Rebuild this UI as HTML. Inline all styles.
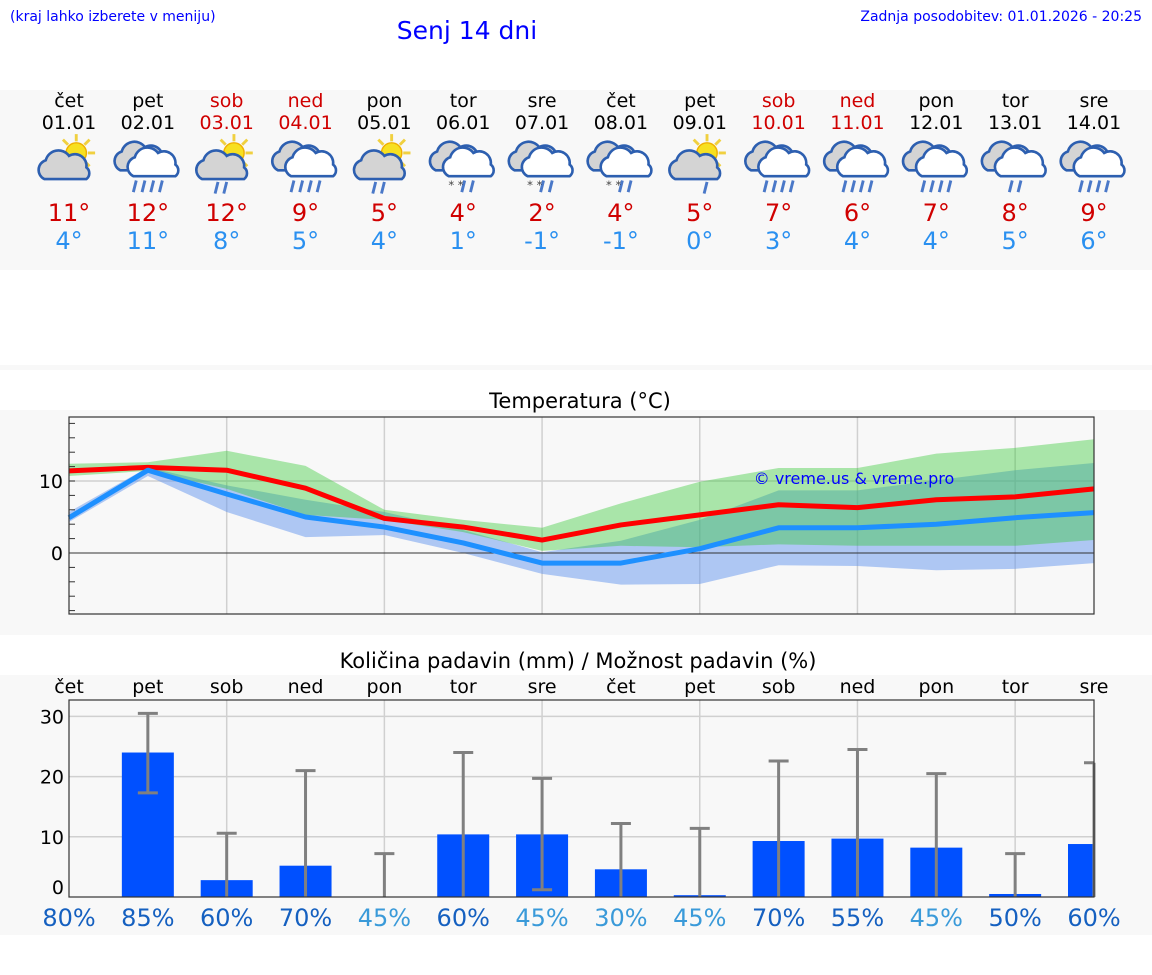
<!DOCTYPE html>
<html><head><meta charset="utf-8"><style>
body{margin:0;width:1152px;height:975px;background:#fff;font-family:"DejaVu Sans","Liberation Sans",sans-serif;overflow:hidden}
svg{display:block}
text{font-family:"DejaVu Sans","Liberation Sans",sans-serif}
</style></head><body>
<svg id="s" width="1152" height="975">
<rect x="0" y="90" width="1152" height="180" fill="#f8f8f8"/>
<rect x="0" y="365" width="1152" height="5" fill="#f8f8f8"/>
<rect x="0" y="410" width="1152" height="225" fill="#f8f8f8"/>
<rect x="0" y="675" width="1152" height="260" fill="#f8f8f8"/>
<text x="10" y="21" font-size="14" fill="#0000ff">(kraj lahko izberete v meniju)</text>
<text x="467" y="39" font-size="25" fill="#0000ff" text-anchor="middle">Senj 14 dni</text>
<text x="1142" y="21" font-size="14" fill="#0000ff" text-anchor="end">Zadnja posodobitev: 01.01.2026 - 20:25</text>
<text x="580" y="408" font-size="21" text-anchor="middle" fill="#000">Temperatura (°C)</text>
<text x="578" y="668" font-size="21" text-anchor="middle" fill="#000">Količina padavin (mm) / Možnost padavin (%)</text>
<g id="topg"></g><g id="temp"></g><g id="prec"></g>
</svg>
<script>
const days=["čet","pet","sob","ned","pon","tor","sre","čet","pet","sob","ned","pon","tor","sre"];
const dates=["01.01","02.01","03.01","04.01","05.01","06.01","07.01","08.01","09.01","10.01","11.01","12.01","13.01","14.01"];
const weekend=[0,0,1,1,0,0,0,0,0,1,1,0,0,0];
const icons=[0,1,2,1,2,3,3,3,4,1,1,1,5,1];
const dayMax=[11,12,12,9,5,4,2,4,5,7,6,7,8,9];
const dayMin=[4,11,8,5,4,1,-1,-1,0,3,4,4,5,6];
const tMax=[11.4,11.9,11.5,9,4.8,3.6,1.8,3.9,5.3,6.7,6.3,7.4,7.8,8.9];
const tMin=[4.9,11.5,8.2,5,3.6,1.4,-1.4,-1.4,0.6,3.5,3.5,4,4.9,5.6];
const gHi=[12.4,12.6,14.2,12.1,6,4.6,3.5,6.9,9.9,11.8,11.8,13.8,14.6,15.8];
const gLo=[10.7,11.4,8.9,5.3,4.6,2.9,0.3,1.0,0.8,1.2,1.0,1.0,1.0,1.8];
const bHi=[5.7,11.9,9.4,7.4,5.7,3.2,0.1,1.7,4.6,8.7,8.7,10.1,11.5,12.5];
const bLo=[4.3,10.7,5.7,2.2,2.5,0,-2.9,-4.4,-4.3,-1.7,-1.8,-2.4,-2.2,-1.4];
const tTicks=[0,10];
const precip=[0,24,2.8,5.2,0,10.4,10.4,4.6,0.3,9.3,9.7,8.2,0.5,8.8];
const errLo=[0,17.3,0,0,0,0,1.2,0,0,0,0,0,0,0];
const errHi=[0,30.5,10.6,21,7.2,24,19.7,12.2,11.4,22.6,24.5,20.5,7.2,22.3];
const chance=[80,85,60,70,45,60,45,30,45,70,55,45,50,60];
const pTicks=[0,10,20,30];
const NS="http://www.w3.org/2000/svg";
function mk(p,t,a,txt){const e=document.createElementNS(NS,t);for(const k in a)e.setAttribute(k,a[k]);if(txt!==undefined)e.textContent=txt;p.appendChild(e);return e;}
const X=i=>69+i*(1094-69)/13;
const topG=document.getElementById('topg');
function cloud(g,cx,cy,fill){
  mk(g,'path',{d:`M${cx-14} ${cy+8} a7 7 0 0 1 1-13 a9 9 0 0 1 16-3 a8 8 0 0 1 12 8 a5 5 0 0 1 0 8 z`,fill:fill,stroke:'#2d5fb0','stroke-width':1.8});
}
function sun(g,cx,cy){
  for(let k=0;k<8;k++){const a=k*Math.PI/4;mk(g,'line',{x1:cx+Math.cos(a)*8,y1:cy+Math.sin(a)*8,x2:cx+Math.cos(a)*13,y2:cy+Math.sin(a)*13,stroke:'#f0d040','stroke-width':2});}
  mk(g,'circle',{cx:cx,cy:cy,r:7,fill:'#f7e020',stroke:'#f0b000','stroke-width':1});
}
function drops(g,cx,cy,n){for(let k=0;k<n;k++){const x=cx-(n-1)*3+k*6;mk(g,'line',{x1:x+1,y1:cy,x2:x-1,y2:cy+8,stroke:'#4a78c8','stroke-width':2});}}
for(let i=0;i<14;i++){
  const x=X(i),col=weekend[i]?'#d00000':'#000';
  const d=mk(topG,'text',{x:x,y:107,'font-size':19,'text-anchor':'middle',fill:col},days[i]);
  
  
  const dt=mk(topG,'text',{x:x,y:129,'font-size':19,'text-anchor':'middle',fill:col},dates[i]);
  
  
  const g=mk(topG,'g',{transform:`translate(${x} 166) scale(1.45) translate(${-x} -166)`});
  
  
  const t=icons[i];
  if(t==0||t==2||t==4){sun(g,x+5,157);cloud(g,x-3,167,'#d4d4d4');if(t==2)drops(g,x-4,177,2);if(t==4)drops(g,x+4,177,1);}
  else{cloud(g,x-5,161,'#d4d4d4');cloud(g,x+4,165,'#fff');
    if(t==1)drops(g,x,176,4);
    if(t==5)drops(g,x,176,2);
    if(t==3){drops(g,x+3,176,2);mk(g,'text',{x:x-5,y:182,'font-size':8,'text-anchor':'middle',fill:'#444'},'* *');}}
  const mx=mk(topG,'text',{x:x,y:221,'font-size':24,'text-anchor':'middle',fill:'#d00000'},dayMax[i]+'°');
  
  
  const mn=mk(topG,'text',{x:x,y:249,'font-size':24,'text-anchor':'middle',fill:'#2a90f0'},dayMin[i]+'°');
  
  
}
const tg=document.getElementById('temp');
const TY=v=>553-v*7.2;
mk(tg,'rect',{x:69,y:417,width:1025,height:197,fill:'#f8f8f8'});
for(let i=2;i<13;i+=2)mk(tg,'line',{x1:X(i),y1:417,x2:X(i),y2:614,stroke:'#d0d0d0','stroke-width':1.5});
mk(tg,'line',{x1:69,y1:TY(10),x2:1094,y2:TY(10),stroke:'#d0d0d0','stroke-width':1.5});
function band(hi,lo,fill,op,name){
  let d='M'+hi.map((v,i)=>X(i)+' '+TY(v)).join(' L')+' L'+lo.map((v,i)=>X(i)+' '+TY(v)).reverse().join(' L')+' Z';
  const p=mk(tg,'path',{d:d,fill:fill,'fill-opacity':op});
  
  
}
band(bHi,bLo,'#6495ed',0.5,'min-temp-range');
band(gHi,gLo,'#32c832',0.4,'max-temp-range');
mk(tg,'line',{x1:69,y1:TY(0),x2:1094,y2:TY(0),stroke:'#333','stroke-width':1});
const wm=mk(tg,'text',{x:854,y:484,'font-size':16,'text-anchor':'middle',fill:'#0000ff'},'© vreme.us & vreme.pro');


const lmax=mk(tg,'polyline',{points:tMax.map((v,i)=>X(i)+','+TY(v)).join(' '),fill:'none',stroke:'#ff0000','stroke-width':5,'stroke-linejoin':'round'});


const lmin=mk(tg,'polyline',{points:tMin.map((v,i)=>X(i)+','+TY(v)).join(' '),fill:'none',stroke:'#1e90ff','stroke-width':5,'stroke-linejoin':'round'});


mk(tg,'rect',{x:69,y:417,width:1025,height:197,fill:'none',stroke:'#333','stroke-width':1.2});
for(let v=-8;v<=18;v+=2)mk(tg,'line',{x1:69,y1:TY(v),x2:75,y2:TY(v),stroke:'#333','stroke-width':1});
tTicks.forEach(v=>{const t=mk(tg,'text',{x:63,y:TY(v)+7,'font-size':19,'text-anchor':'end',fill:'#000'},v);
  
  });
const pg=document.getElementById('prec');
const PY=v=>897-v*6.02;
for(let i=2;i<13;i+=2)mk(pg,'line',{x1:X(i),y1:700,x2:X(i),y2:897,stroke:'#d0d0d0','stroke-width':1.5});
pTicks.forEach(v=>{if(v>0)mk(pg,'line',{x1:69,y1:PY(v),x2:1094,y2:PY(v),stroke:'#d0d0d0','stroke-width':1.5});
  const t=mk(pg,'text',{x:64,y:PY(v)+(v?7:-3),'font-size':19,'text-anchor':'end',fill:'#000'},v);
  
  });
for(let i=0;i<14;i++){
  const x=X(i);
  const dn=mk(pg,'text',{x:x,y:693,'font-size':19,'text-anchor':'middle',fill:'#000'},days[i]);
  
  
  const x0=Math.max(69,x-26),x1=Math.min(1094,x+26);
  if(precip[i]>0){const b=mk(pg,'rect',{x:x0,y:PY(precip[i]),width:x1-x0,height:897-PY(precip[i]),fill:'#0050ff'});
    
    }
  if(errHi[i]>0){const e=mk(pg,'g',{});
    
    
    mk(e,'line',{x1:x,y1:PY(errLo[i]),x2:x,y2:PY(errHi[i]),stroke:'#808080','stroke-width':3});
    mk(e,'line',{x1:x-10,y1:PY(errHi[i]),x2:Math.min(1094,x+10),y2:PY(errHi[i]),stroke:'#808080','stroke-width':3});
    if(errLo[i]>0)mk(e,'line',{x1:x-10,y1:PY(errLo[i]),x2:x+10,y2:PY(errLo[i]),stroke:'#808080','stroke-width':3});}
  const c=mk(pg,'text',{x:x,y:926,'font-size':24,'text-anchor':'middle',fill:chance[i]>=50?'#1560c0':'#3a9ad9'},chance[i]+'%');
  
  
}
mk(pg,'rect',{x:69,y:700,width:1025,height:197,fill:'none',stroke:'#333','stroke-width':1.2});
</script>
</body></html>
